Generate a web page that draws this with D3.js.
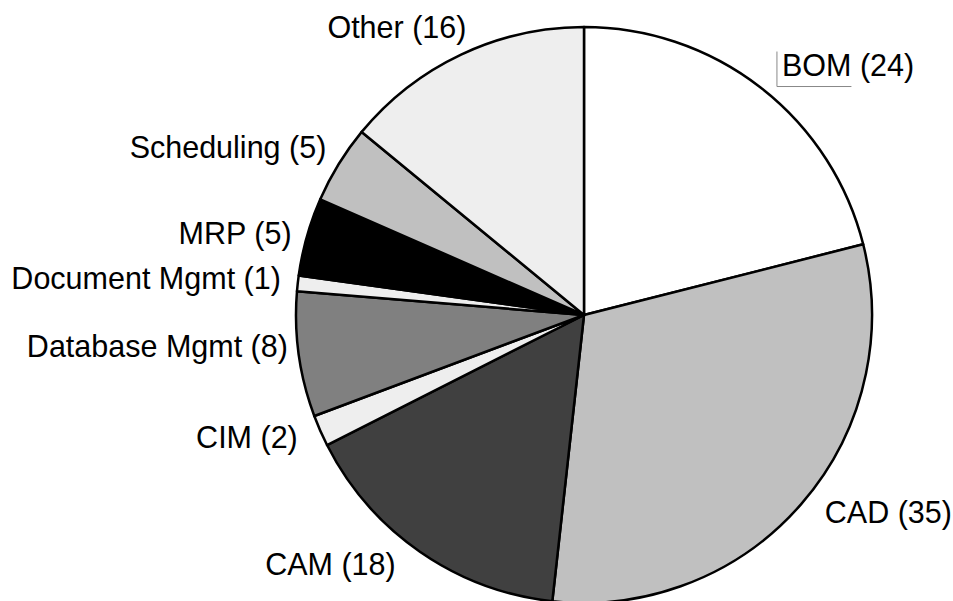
<!DOCTYPE html>
<html>
<head>
<meta charset="utf-8">
<script src="https://cdn.jsdelivr.net/npm/d3@7"></script>
<style>
  html, body { margin: 0; padding: 0; background: #fff; }
  svg { display: block; }
  text { font-family: "Liberation Sans", Arial, sans-serif; font-size: 30.5px; fill: #000; }
</style>
</head>
<body>
<svg id="chart" width="953" height="601"></svg>
<script>
// Software categories and their counts, clockwise from 12 o'clock
const categories = ["BOM", "CAD", "CAM", "CIM", "Database Mgmt", "Document Mgmt", "MRP", "Scheduling", "Other"];
const counts = [24, 35, 18, 2, 8, 1, 5, 5, 16];
const fills = ["#ffffff", "#c0c0c0", "#404040", "#eeeeee", "#808080", "#eeeeee", "#000000", "#c0c0c0", "#eeeeee"];

const width = 953, height = 601;
const cx = 584, cy = 315, radius = 288, labelRadius = 306;

// Small hand nudges so labels clear each other and the rim
const labelNudge = {
  "BOM": [10, -8], "CAD": [10, -4], "CAM": [-14, -2], "CIM": [-6, -1],
  "Database Mgmt": [7, -11], "Document Mgmt": [1, -3], "MRP": [2, 2],
  "Scheduling": [3, -7], "Other": [13, -11]
};

const data = categories.map((c, i) => ({ name: c, value: counts[i], fill: fills[i] }));

const svg = d3.select("#chart");
const g = svg.append("g").attr("transform", `translate(${cx},${cy})`);

const pie = d3.pie().value(d => d.value).sort(null);
const arc = d3.arc().innerRadius(0).outerRadius(radius);
const labelArc = d3.arc().innerRadius(labelRadius).outerRadius(labelRadius);

const arcs = pie(data);

g.selectAll("path.slice")
  .data(arcs)
  .join("path")
  .attr("class", "slice")
  .attr("d", arc)
  .attr("fill", d => d.data.fill)
  .attr("stroke", "#000")
  .attr("stroke-width", 2.5)
  .attr("stroke-linejoin", "round");

function labelPos(d) {
  const [x, y] = labelArc.centroid(d);
  const [dx, dy] = labelNudge[d.data.name] || [0, 0];
  return [x + dx, y + dy];
}

// Labels sit just outside the rim, anchored away from the pie
const labels = g.selectAll("text.label")
  .data(arcs)
  .join("text")
  .attr("class", "label")
  .attr("transform", d => `translate(${labelPos(d)})`)
  .attr("text-anchor", d => ((d.startAngle + d.endAngle) / 2 < Math.PI ? "start" : "end"))
  .attr("dy", "0.35em");

labels.append("tspan").attr("class", "name").text(d => d.data.name);
labels.append("tspan").text(d => ` (${d.data.value})`);

// Thin leader bracket under the first category name
labels.filter((d, i) => i === 0).each(function(d) {
  const name = d3.select(this).select("tspan.name").node();
  const w = name.getComputedTextLength();
  const [x, y] = labelPos(d);
  const left = x - 5, top = y - 14, bottom = y + 21;
  g.append("path")
    .attr("d", `M${left},${top}V${bottom}H${left + w + 5}`)
    .attr("fill", "none")
    .attr("stroke", "#888")
    .attr("stroke-width", 1);
});
</script>
</body>
</html>
